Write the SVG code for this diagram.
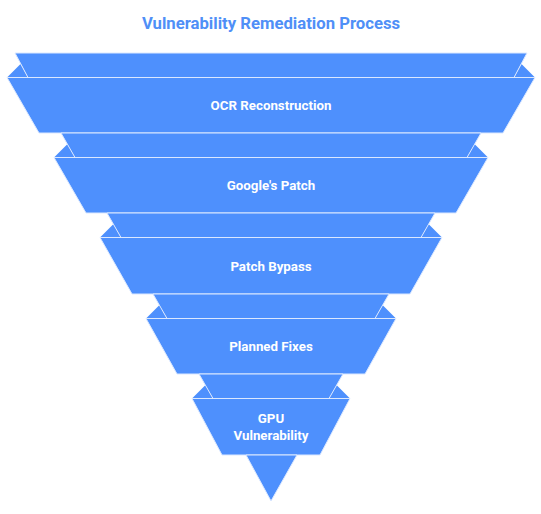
<svg xmlns="http://www.w3.org/2000/svg" width="541" height="514" viewBox="0 0 541 514">
<style>
.f{fill:#4e90fd;stroke:#dbe8ff;stroke-width:1;stroke-linejoin:round}
.fl{fill:#4e90fd;stroke:none}
.t{font-family:Roboto,"Liberation Sans",sans-serif;font-weight:bold;font-size:13.3px;fill:#ffffff;text-anchor:middle}
.title{font-family:Roboto,"Liberation Sans",sans-serif;font-weight:bold;font-size:16.7px;fill:#4f8ff7;text-anchor:middle}
</style>
<rect width="541" height="514" fill="#ffffff"/>
<text class="title" x="271" y="29">Vulnerability Remediation Process</text>
<g id="connectors"></g>
<g id="stage1">
<polygon class="fl" points="7,77.5 20.5,64 28,77.5"/>
<polygon class="fl" points="535,77.5 521.5,64 514,77.5"/>
<polygon class="f" points="15,53 527,53 514,77.5 28,77.5"/>
<polygon class="f" points="7,77.5 535,77.5 503,133 39,133"/>
<text class="t" x="271" y="110">OCR Reconstruction</text>
</g>
<g id="stage2">
<polygon class="fl" points="54,157.5 67.5,144 75,157.5"/>
<polygon class="fl" points="488,157.5 474.5,144 467,157.5"/>
<polygon class="f" points="61,133 481,133 467,157.5 75,157.5"/>
<polygon class="f" points="54,157.5 488,157.5 456,213 86,213"/>
<text class="t" x="271" y="190">Google's Patch</text>
</g>
<g id="stage3">
<polygon class="fl" points="100,237.5 113.5,224 121,237.5"/>
<polygon class="fl" points="442,237.5 428.5,224 421,237.5"/>
<polygon class="f" points="107,213 435,213 421,237.5 121,237.5"/>
<polygon class="f" points="100,237.5 442,237.5 410,294 132,294"/>
<text class="t" x="271" y="271">Patch Bypass</text>
</g>
<g id="stage4">
<polygon class="fl" points="146,318.5 159.5,305 167,318.5"/>
<polygon class="fl" points="396,318.5 382.5,305 375,318.5"/>
<polygon class="f" points="153,294 389,294 375,318.5 167,318.5"/>
<polygon class="f" points="146,318.5 396,318.5 365,374 177,374"/>
<text class="t" x="271" y="351">Planned Fixes</text>
</g>
<g id="stage5">
<polygon class="fl" points="192,398.5 205.5,385 213,398.5"/>
<polygon class="fl" points="350,398.5 336.5,385 329,398.5"/>
<polygon class="f" points="199,374 343,374 329,398.5 213,398.5"/>
<polygon class="f" points="192,398.5 350,398.5 320,455 222,455"/>
<text class="t" x="271" y="423">GPU</text>
<text class="t" x="271" y="440">Vulnerability</text>
</g>
<g id="tip">
<polygon class="f" points="246,455 297,455 271,501"/>
</g>
</svg>
